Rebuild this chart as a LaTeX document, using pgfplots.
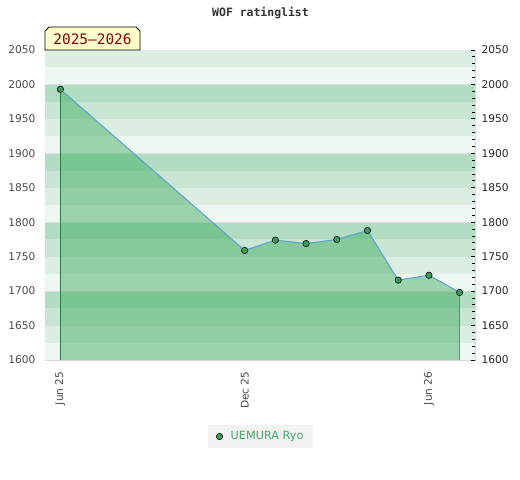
\documentclass[border=0pt]{standalone}
\usepackage{fontspec}
\setmainfont{DejaVu Sans}
\newfontfamily\monofont{DejaVu Sans Mono}
\usepackage{pgfplots}
\pgfplotsset{compat=1.18}
\definecolor{banddark}{RGB}{178,221,194}
\definecolor{bandmed}{RGB}{200,230,211}
\definecolor{bandlight}{RGB}{220,237,226}
\definecolor{bandlightest}{RGB}{239,247,242}
\definecolor{areagreen}{RGB}{62,173,95}
\definecolor{lineblue}{RGB}{90,160,212}
\definecolor{markgreen}{RGB}{50,160,90}
\definecolor{leftline}{RGB}{40,125,70}
\definecolor{rightline}{RGB}{50,170,80}
\definecolor{legbg}{RGB}{242,242,242}
\definecolor{legtext}{RGB}{60,170,100}
\definecolor{tickgray}{RGB}{75,75,75}
\definecolor{labred}{RGB}{140,0,0}
\definecolor{labbg}{RGB}{255,255,204}
\definecolor{titlegray}{RGB}{50,50,50}
\newcommand{\tf}{\fontsize{10.67}{12}\selectfont}
\begin{document}
\begin{tikzpicture}
\path[use as bounding box] (0bp,0bp) rectangle (520bp,480bp);
\begin{axis}[
  at={(45bp,120bp)}, anchor=south west,
  scale only axis, width=430bp, height=310bp,
  xmin=-0.5, xmax=13.5, ymin=1600, ymax=2050,
  axis line style={draw=black!15},
  xtick={0,6,12}, xticklabels={Jun 25, Dec 25, Jun 26},
  x tick label style={rotate=90, anchor=east, font=\tf, text=tickgray},
  xticklabel shift=8bp,
  ytick={1600,1650,...,2050},
  y tick label style={anchor=east, font=\tf, text=tickgray, xshift=-6bp},
  /pgf/number format/assume math mode=true,
  /pgf/number format/set thousands separator={},
  major tick length=0pt,
  clip=true,
  legend style={at={(0.502,-0.2468)}, anchor=center, fill=legbg, draw=none,
    font=\fontsize{11.3}{13}\selectfont, text=legtext, inner xsep=8bp, inner ysep=5bp},
  legend cell align=left,
  legend image code/.code={\draw[#1] plot coordinates {(0bp,0bp)}; \path (9bp,0bp);},
]
% background bands
\fill[bandlightest] (axis cs:-0.5,1600) rectangle (axis cs:13.5,1625);
\fill[bandlight] (axis cs:-0.5,1625) rectangle (axis cs:13.5,1650);
\fill[bandmed] (axis cs:-0.5,1650) rectangle (axis cs:13.5,1675);
\fill[banddark] (axis cs:-0.5,1675) rectangle (axis cs:13.5,1700);
\fill[bandlightest] (axis cs:-0.5,1700) rectangle (axis cs:13.5,1725);
\fill[bandlight] (axis cs:-0.5,1725) rectangle (axis cs:13.5,1750);
\fill[bandmed] (axis cs:-0.5,1750) rectangle (axis cs:13.5,1775);
\fill[banddark] (axis cs:-0.5,1775) rectangle (axis cs:13.5,1800);
\fill[bandlightest] (axis cs:-0.5,1800) rectangle (axis cs:13.5,1825);
\fill[bandlight] (axis cs:-0.5,1825) rectangle (axis cs:13.5,1850);
\fill[bandmed] (axis cs:-0.5,1850) rectangle (axis cs:13.5,1875);
\fill[banddark] (axis cs:-0.5,1875) rectangle (axis cs:13.5,1900);
\fill[bandlightest] (axis cs:-0.5,1900) rectangle (axis cs:13.5,1925);
\fill[bandlight] (axis cs:-0.5,1925) rectangle (axis cs:13.5,1950);
\fill[bandmed] (axis cs:-0.5,1950) rectangle (axis cs:13.5,1975);
\fill[banddark] (axis cs:-0.5,1975) rectangle (axis cs:13.5,2000);
\fill[bandlightest] (axis cs:-0.5,2000) rectangle (axis cs:13.5,2025);
\fill[bandlight] (axis cs:-0.5,2025) rectangle (axis cs:13.5,2050);
\draw[black!12, line width=0.6bp] (axis cs:-0.5,1700) -- (axis cs:13.5,1700);
\draw[black!12, line width=0.6bp] (axis cs:-0.5,1800) -- (axis cs:13.5,1800);
\draw[black!12, line width=0.6bp] (axis cs:-0.5,1900) -- (axis cs:13.5,1900);
\draw[black!12, line width=0.6bp] (axis cs:-0.5,2000) -- (axis cs:13.5,2000);
% area
\addplot[draw=none, fill=areagreen, fill opacity=0.475, forget plot] coordinates {
  (0,1600) (0,1993) (6,1759) (7,1774) (8,1769) (9,1775) (10,1788) (11,1716) (12,1723) (13,1698) (13,1600)};
\addplot[leftline, line width=0.8bp, forget plot] coordinates {(0,1600) (0,1993)};
\addplot[rightline, line width=0.8bp, forget plot] coordinates {(13,1600) (13,1698)};
\addplot[lineblue, line width=1bp, forget plot] coordinates {
  (0,1993) (6,1759) (7,1774) (8,1769) (9,1775) (10,1788) (11,1716) (12,1723) (13,1698)};
\addplot[only marks, mark=*, mark size=3.2bp, mark options={fill=markgreen, draw=black, line width=0.6bp}] coordinates {
  (0,1993) (6,1759) (7,1774) (8,1769) (9,1775) (10,1788) (11,1716) (12,1723) (13,1698)};
\addlegendentry{UEMURA Ryo}
\end{axis}
\begin{axis}[
  at={(45bp,120bp)}, anchor=south west,
  scale only axis, width=430bp, height=310bp,
  xmin=-0.5, xmax=13.5, ymin=1600, ymax=2050,
  axis line style={draw=none},
  xtick=\empty,
  ytick pos=right, yticklabel pos=right,
  ytick={1600,1650,...,2050},
  minor y tick num=4,
  tick align=inside,
  major tick length=4bp, minor tick length=3bp,
  tick style={black, line width=0.8bp},
  y tick label style={anchor=west, font=\tf, text=black!85, xshift=3bp},
  /pgf/number format/assume math mode=true,
  /pgf/number format/set thousands separator={},
]
\end{axis}
% title
\node[font=\monofont\bfseries\fontsize{11.5}{13}\selectfont, text=titlegray] at (260.5bp,467bp) {WOF ratinglist};
% season label
\filldraw[fill=labbg, draw=black, line width=0.8bp] (45bp,430bp) -- (45bp,449bp) -- (49bp,453bp) -- (136bp,453bp) -- (140bp,449bp) -- (140bp,430bp) -- cycle;
\node[font=\monofont\fontsize{14.5}{16}\selectfont, text=labred] at (92.5bp,441bp) {2025–2026};
\end{tikzpicture}
\end{document}
